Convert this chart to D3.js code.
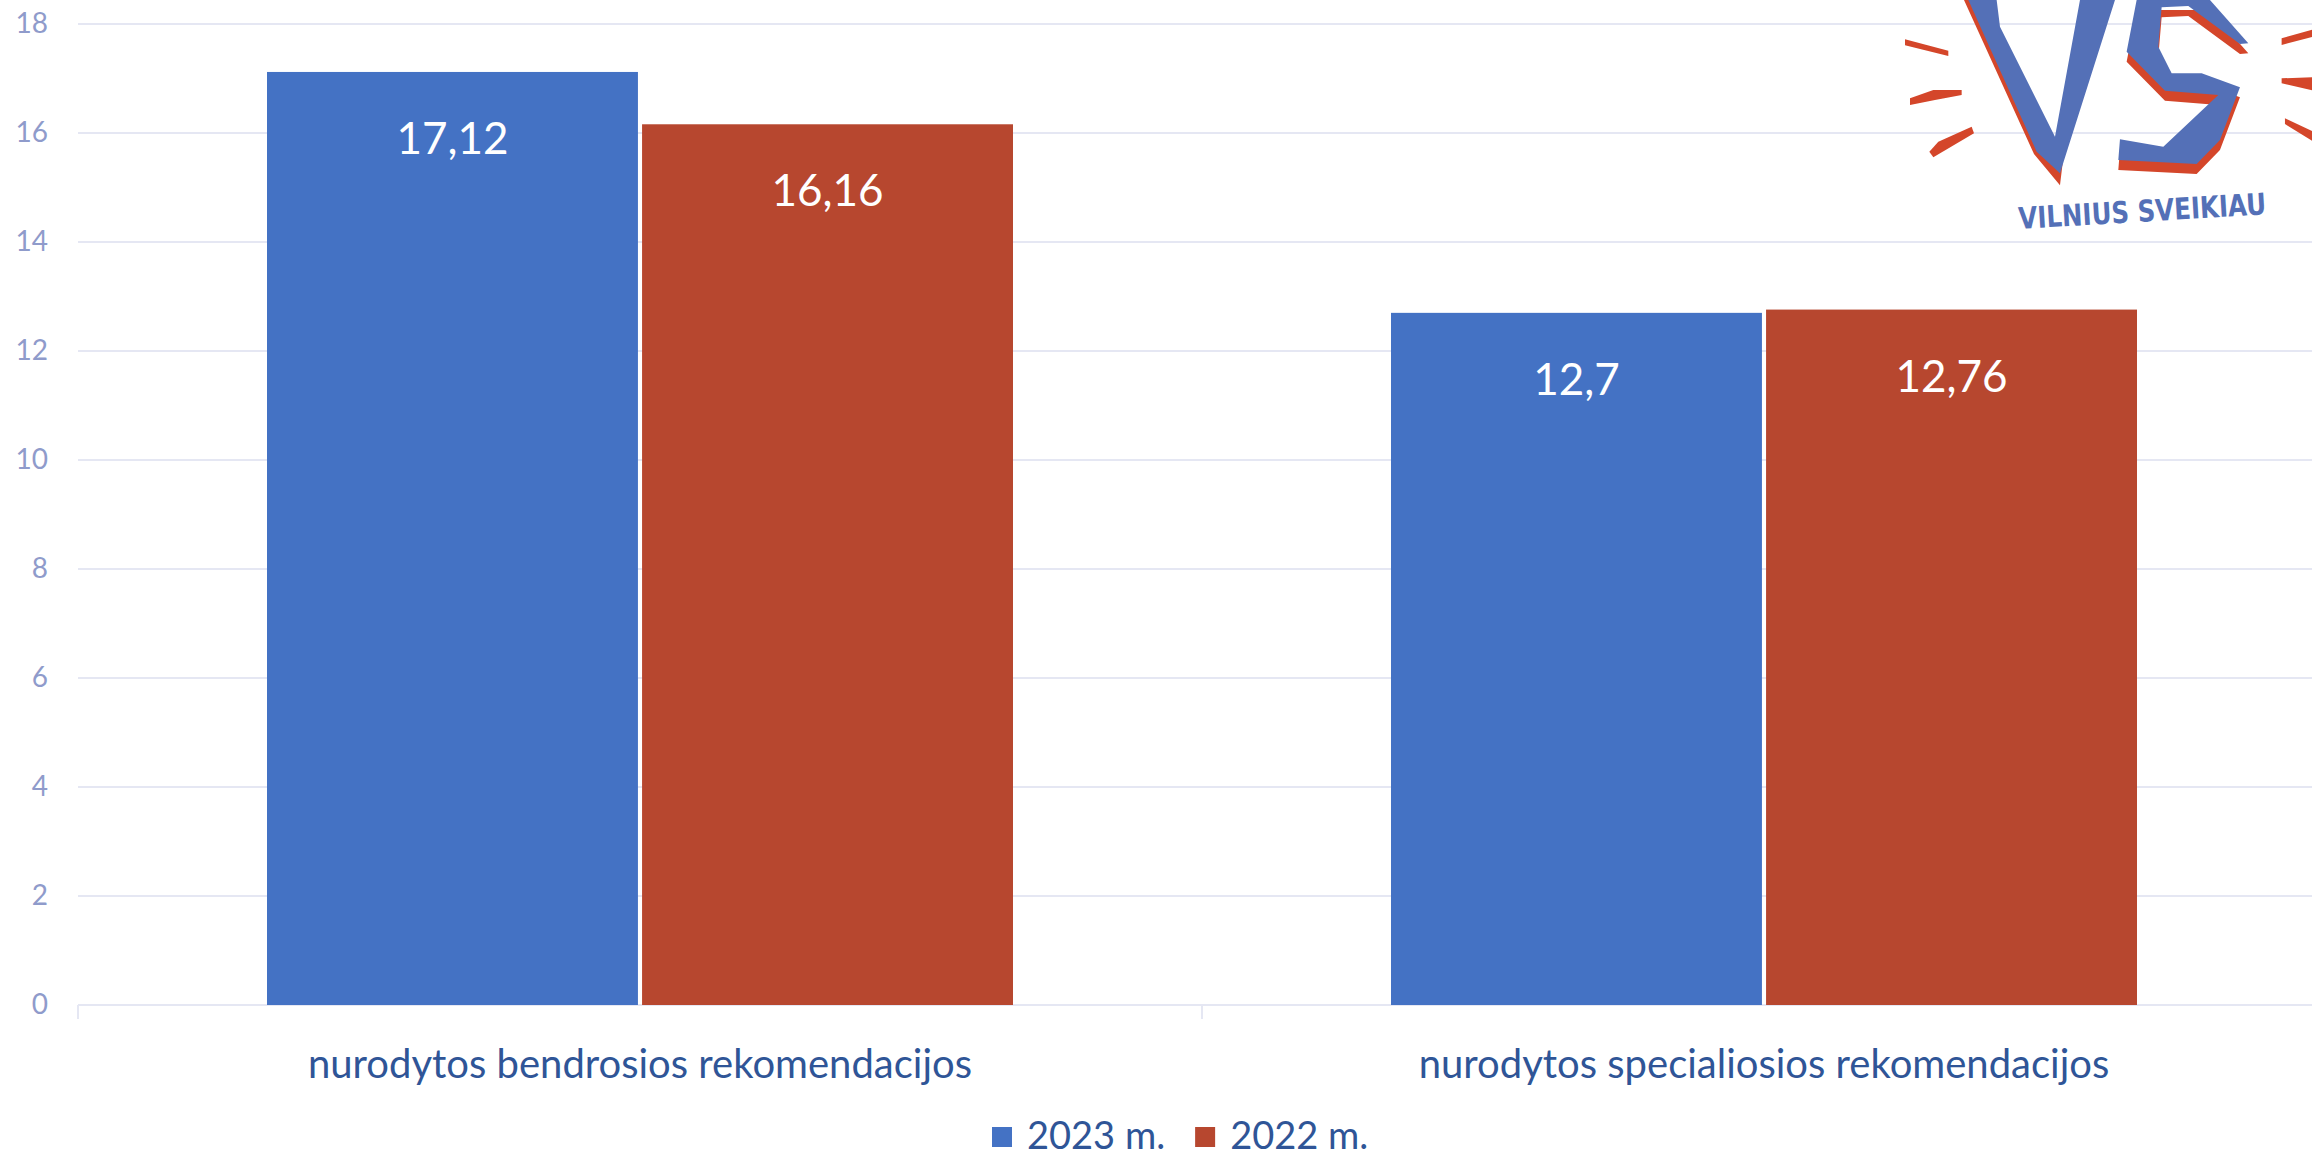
<!DOCTYPE html>
<html lang="lt">
<head>
  <meta charset="UTF-8">
  <title>Rekomendacijos 2023 / 2022</title>
  <script src="https://cdn.jsdelivr.net/npm/d3@7"></script>
  <style>
    html, body { margin: 0; padding: 0; background: #fff; }
    svg { display: block; font-family: Lato, "Noto Sans", sans-serif; }
  </style>
</head>
<body>
<div class="chart"></div>
<script>
// data
const categories = ['nurodytos bendrosios rekomendacijos', 'nurodytos specialiosios rekomendacijos'];
const series = ['2023 m.', '2022 m.'];
const values2023 = [17.12, 12.7];
const values2022 = [16.16, 12.76];
const yTicks = [0, 2, 4, 6, 8, 10, 12, 14, 16, 18];

const colors = { '2023 m.': '#4472c4', '2022 m.': '#b7472f' };
const W = 2312, H = 1153;
const plot = { left: 78, top: 24, bottom: 1005, band: 1124 };

const svg = d3.select('.chart').append('svg').attr('width', W).attr('height', H);

const y = d3.scaleLinear().domain([0, 18]).range([plot.bottom, plot.top]);
const x0 = d3.scaleBand().domain(categories).range([plot.left, plot.left + plot.band * categories.length]);
const x1 = d3.scaleBand().domain(series).range([189, plot.band - 189]).paddingInner(0.011);

const rows = categories.map((c, i) => ({ cat: c, vals: [
  { s: '2023 m.', v: values2023[i] },
  { s: '2022 m.', v: values2022[i] }
]}));

// gridlines
svg.append('g').selectAll('line').data(yTicks).join('line')
  .attr('x1', plot.left).attr('x2', W)
  .attr('y1', d => y(d)).attr('y2', d => y(d))
  .attr('stroke', '#e5e7f3').attr('stroke-width', 2);

// y axis labels
const yAxis = svg.append('g').attr('transform', `translate(${plot.left},0)`)
  .call(d3.axisLeft(y).tickValues(yTicks).tickSize(0).tickPadding(30).tickFormat(d3.format('d')));
yAxis.select('.domain').remove();
yAxis.selectAll('text').attr('font-size', 28).attr('fill', '#8f9bcb').attr('font-family', 'Lato, sans-serif');

// category dividers
svg.append('g').selectAll('line').data(d3.range(categories.length + 1)).join('line')
  .attr('x1', i => plot.left + i * x0.step()).attr('x2', i => plot.left + i * x0.step())
  .attr('y1', plot.bottom).attr('y2', plot.bottom + 14)
  .attr('stroke', '#e5e7f3').attr('stroke-width', 2);

// bars
const groups = svg.append('g').selectAll('g').data(rows).join('g')
  .attr('transform', d => `translate(${x0(d.cat)},0)`);

groups.selectAll('rect').data(d => d.vals).join('rect')
  .attr('x', d => x1(d.s)).attr('width', x1.bandwidth())
  .attr('y', d => y(d.v)).attr('height', d => y(0) - y(d.v))
  .attr('fill', d => colors[d.s]);

groups.selectAll('text').data(d => d.vals).join('text')
  .attr('x', d => x1(d.s) + x1.bandwidth() / 2)
  .attr('y', d => y(d.v) + 82)
  .attr('text-anchor', 'middle').attr('font-size', 44).attr('fill', '#fff')
  .text(d => String(d.v).replace('.', ','));

// category labels
svg.append('g').selectAll('text').data(categories).join('text')
  .attr('x', d => x0(d) + x0.bandwidth() / 2).attr('y', 1078)
  .attr('text-anchor', 'middle').attr('font-size', 40).attr('fill', '#2f5597')
  .text(d => d);

// legend
const legend = svg.append('g');
let lx = 992;
series.forEach(s => {
  legend.append('rect').attr('x', lx).attr('y', 1127).attr('width', 20).attr('height', 20).attr('fill', colors[s]);
  const t = legend.append('text').attr('x', lx + 35).attr('y', 1149)
    .attr('font-size', 38).attr('fill', '#2f5597').text(s);
  lx += 35 + t.node().getComputedTextLength() + 30;
});

// logo (top right)
const logo = svg.append('g').attr('transform', 'translate(1880,0) scale(0.3333)');
const red = '#d4462a', blue = '#5470b7';
const rays = [
  [[75,118],[205,152],[205,168],[75,136]],
  [[90,295],[160,270],[245,270],[245,285],[165,300],[90,315]],
  [[148,455],[175,425],[275,380],[282,400],[160,472]],
  [[1205,115],[1300,88],[1300,110],[1205,135]],
  [[1205,235],[1300,232],[1300,272],[1205,250]],
  [[1215,355],[1300,395],[1300,425],[1215,372]]
];
logo.selectAll('polygon.ray').data(rays).join('polygon').attr('class', 'ray')
  .attr('points', d => d.join(' ')).attr('fill', red);

const vShadow = [[252,0],[462,462],[540,556],[548,490],[480,440],[300,0]];
const vShape = [[265,0],[470,455],[540,520],[705,0],[600,0],[525,410],[360,80],[350,0]];
const sShape = [[770,0],[740,155],[855,272],[1015,285],[850,440],[720,418],[715,480],[950,492],
  [1020,420],[1080,262],[965,220],[875,220],[835,140],[845,22],[925,18],[1080,132],[1105,130],[990,0]];

logo.append('polygon').attr('points', vShadow.join(' ')).attr('fill', red);
logo.append('polygon').attr('points', sShape.join(' ')).attr('fill', red).attr('transform', 'translate(0,30)');
logo.append('polygon').attr('points', vShape.join(' ')).attr('fill', blue);
logo.append('polygon').attr('points', sShape.join(' ')).attr('fill', blue);

svg.append('text').attr('transform', 'translate(2019,229) rotate(-3.4)')
  .attr('font-family', '"DejaVu Sans", sans-serif').attr('font-weight', 'bold')
  .attr('font-size', 30).attr('fill', blue)
  .attr('textLength', 248).attr('lengthAdjust', 'spacingAndGlyphs')
  .text('VILNIUS SVEIKIAU');
</script>
</body>
</html>
